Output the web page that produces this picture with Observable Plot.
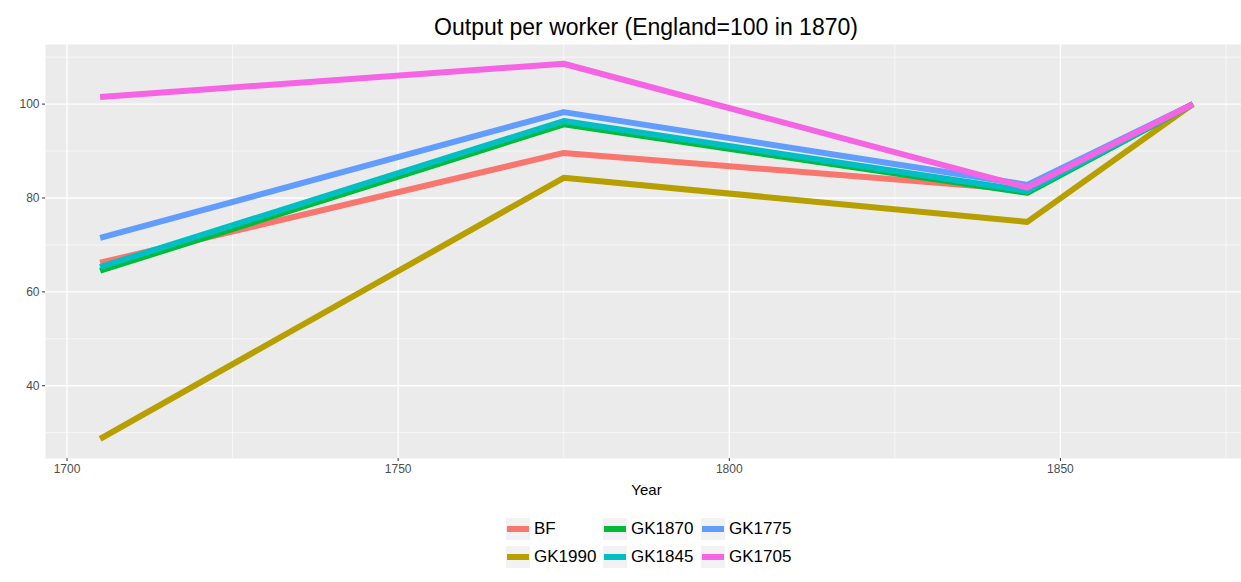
<!DOCTYPE html>
<html>
<head>
<meta charset="utf-8">
<script src="https://cdn.jsdelivr.net/npm/d3@7"></script>
<script src="https://cdn.jsdelivr.net/npm/@observablehq/plot@0.6"></script>
<style>
  html, body { margin: 0; background: #fff; font-family: "Liberation Sans", Arial, sans-serif; overflow: hidden; }
  #wrap { width: 1241px; overflow: hidden; }
  #title { height: 40px; width: 1247px; box-sizing: border-box; padding-left: 45px; padding-right: 0;
           text-align: center; font-size: 23px; line-height: 54px; color: #000; white-space: nowrap; }
  #chart { width: 1247px; }
  #legend { position: relative; width: 1241px; height: 70px; }
  .item { position: absolute; display: flex; align-items: center; font-size: 17px; color: #000; }
  .key { width: 24px; height: 22px; background: #F2F2F2; display: flex; align-items: center; justify-content: center; margin-right: 4px; }
  .key span { display: block; width: 22px; height: 6px; }
</style>
</head>
<body>
<div id="wrap">
<div id="title">Output per worker (England=100 in 1870)</div>
<div id="chart"></div>
<div id="legend"></div>
</div>
<script>
const years = [1705, 1775, 1845, 1870];
const seriesNames = ["BF", "GK1990", "GK1870", "GK1845", "GK1775", "GK1705"];
const BF     = [66.2, 89.6, 81.7, 100];
const GK1990 = [28.7, 84.3, 74.9, 100];
const GK1870 = [64.5, 95.7, 81.1, 100];
const GK1845 = [65.3, 96.4, 81.5, 100];
const GK1775 = [71.5, 98.3, 82.8, 100];
const GK1705 = [101.5, 108.6, 82.2, 100];
const seriesValues = [BF, GK1990, GK1870, GK1845, GK1775, GK1705];
const colors = ["#F8766D", "#B79F00", "#00BA38", "#00BFC4", "#619CFF", "#F564E3"];
const xTicks = [1700, 1750, 1800, 1850];
const xMinor = [1725, 1775, 1825, 1875];
const yTicks = [40, 60, 80, 100];
const yMinor = [30, 50, 70, 90, 110];

const rows = [];
seriesNames.forEach((s, i) => years.forEach((yr, j) => rows.push({series: s, year: yr, value: seriesValues[i][j]})));

const chart = Plot.plot({
  width: 1247,
  height: 466,
  marginTop: 4,
  marginBottom: 48,
  marginLeft: 45,
  marginRight: 0,
  style: {fontFamily: "Liberation Sans, Arial, sans-serif", background: "transparent"},
  x: {domain: [1696.75, 1878.25]},
  y: {domain: [24.5, 112.7]},
  color: {domain: seriesNames, range: colors},
  marks: [
    Plot.frame({fill: "#EBEBEB", stroke: null}),
    Plot.ruleY(yMinor, {stroke: "#fff", strokeWidth: 0.6}),
    Plot.ruleX(xMinor, {stroke: "#fff", strokeWidth: 0.6}),
    Plot.ruleY(yTicks, {stroke: "#fff", strokeWidth: 1.3}),
    Plot.ruleX(xTicks, {stroke: "#fff", strokeWidth: 1.3}),
    Plot.line(rows, {x: "year", y: "value", z: "series", stroke: "series", strokeWidth: 6, strokeLinecap: "butt", strokeLinejoin: "round"}),
    Plot.axisY(yTicks, {tickSize: 3, tickPadding: 3, fontSize: 12, color: "#4D4D4D", stroke: "#333", label: null}),
    Plot.axisX(xTicks, {tickSize: 3, tickPadding: 3, fontSize: 12, color: "#4D4D4D", stroke: "#333", tickFormat: d => String(d), label: null}),
    Plot.text(["Year"], {frameAnchor: "bottom", dy: 36, fontSize: 15, fill: "#000"})
  ]
});
document.getElementById("chart").appendChild(chart);

// legend: 2 rows, filled column-wise
const legend = document.getElementById("legend");
const colX = [506, 603, 701];
const rowY = [12, 40];
seriesNames.forEach((s, i) => {
  const col = Math.floor(i / 2), row = i % 2;
  const item = document.createElement("div");
  item.className = "item";
  item.style.left = colX[col] + "px";
  item.style.top = rowY[row] + "px";
  const key = document.createElement("div");
  key.className = "key";
  const sw = document.createElement("span");
  sw.style.background = colors[i];
  key.appendChild(sw);
  const lab = document.createElement("div");
  lab.textContent = s;
  item.appendChild(key);
  item.appendChild(lab);
  legend.appendChild(item);
});
</script>
</body>
</html>
